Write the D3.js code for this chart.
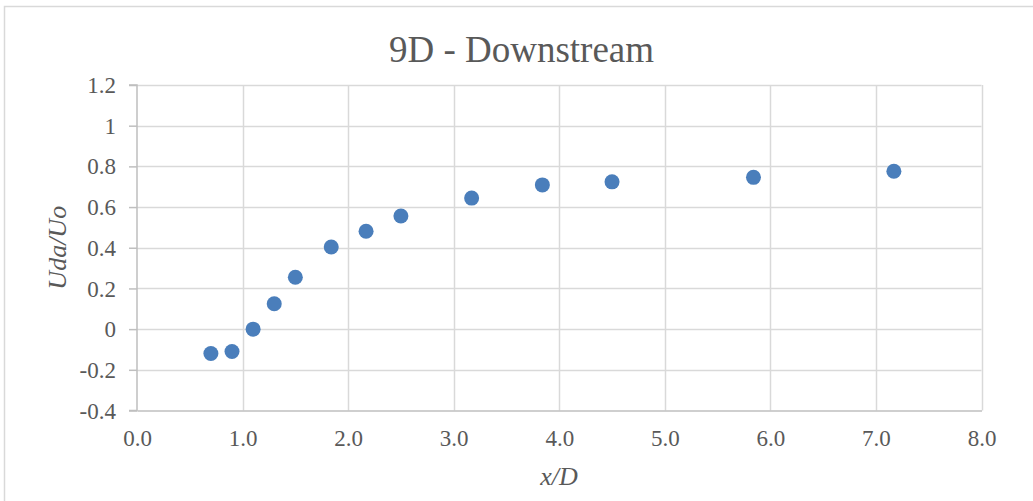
<!DOCTYPE html>
<html>
<head>
<meta charset="utf-8">
<script src="https://cdn.jsdelivr.net/npm/d3@7/dist/d3.min.js"></script>
<style>
  html, body { margin: 0; padding: 0; background: #fff; }
  svg { display: block; }
  svg text { font-family: "Liberation Serif", "DejaVu Serif", "Times New Roman", serif; }
</style>
</head>
<body>
<svg id="chart" width="1033" height="501"></svg>
<script>
// Velocity deficit profile, 9D downstream
const xValues = [0.70, 0.90, 1.10, 1.30, 1.50, 1.84, 2.17, 2.50, 3.17, 3.84, 4.50, 5.84, 7.17];
const yValues = [-0.12, -0.11, 0.00, 0.125, 0.255, 0.404, 0.481, 0.556, 0.644, 0.709, 0.724, 0.746, 0.776];
const xTicks = [0, 1, 2, 3, 4, 5, 6, 7, 8];
const yTicks = [-0.4, -0.2, 0, 0.2, 0.4, 0.6, 0.8, 1, 1.2];
const titleText = "9D - Downstream";
const xLabel = "x/D";
const yLabel = "Uda/Uo";

const svg = d3.select("#chart");
const textColor = "#595959";

// Chart frame
svg.append("rect")
  .attr("x", 4.5).attr("y", 6.5)
  .attr("width", 1040).attr("height", 510)
  .attr("fill", "#fff")
  .attr("stroke", "#d9d9d9").attr("stroke-width", 1.5);

const plot = { left: 137, right: 981.5, top: 85, bottom: 410.5 };

const x = d3.scaleLinear().domain([0, 8]).range([plot.left, plot.right]);
const y = d3.scaleLinear().domain([-0.4, 1.2]).range([plot.bottom, plot.top]);

// Grid lines
const grid = svg.append("g");
grid.selectAll("line.h")
  .data(yTicks.filter(t => t !== -0.4))
  .join("line")
  .attr("x1", plot.left).attr("x2", plot.right)
  .attr("y1", d => Math.round(y(d)) + 0.5).attr("y2", d => Math.round(y(d)) + 0.5)
  .attr("stroke", "#d9d9d9").attr("stroke-width", 1.5);
grid.selectAll("line.v")
  .data(xTicks.filter(t => t !== 0))
  .join("line")
  .attr("y1", plot.top).attr("y2", plot.bottom)
  .attr("x1", d => Math.round(x(d)) + 0.5).attr("x2", d => Math.round(x(d)) + 0.5)
  .attr("stroke", "#d9d9d9").attr("stroke-width", 1.5);

// Axes
const yAxis = d3.axisLeft(y).tickValues(yTicks).tickSize(8).tickPadding(13)
  .tickFormat(d => d === 0 ? "0" : (Number.isInteger(d) ? String(d) : d3.format(".1f")(d)).replace("−", "-"));
const xAxis = d3.axisBottom(x).tickValues(xTicks).tickSize(0).tickPadding(19)
  .tickFormat(d3.format(".1f"));

const gy = svg.append("g").attr("transform", `translate(${plot.left},0)`).call(yAxis);
const gx = svg.append("g").attr("transform", `translate(0,${plot.bottom})`).call(xAxis);

[gx, gy].forEach(g => {
  g.attr("font-family", null).attr("font-size", null);
  g.select(".domain").attr("stroke", "#bfbfbf").attr("stroke-width", 1.5);
  g.selectAll(".tick line").attr("stroke", "#bfbfbf").attr("stroke-width", 1.5);
  g.selectAll(".tick text")
    .attr("fill", textColor)
    .style("font-size", "23px");
});
gy.select(".domain").attr("d", `M-8,${plot.top}H0V${plot.bottom}H-8`);
gy.selectAll(".tick text").attr("dy", "0.33em");

// Data points
svg.append("g").selectAll("circle")
  .data(xValues.map((v, i) => [v, yValues[i]]))
  .join("circle")
  .attr("cx", d => x(d[0]))
  .attr("cy", d => y(d[1]))
  .attr("r", 7.5)
  .attr("fill", "#4a7ebb");

// Title and axis titles
svg.append("text")
  .attr("x", 521.5).attr("y", 62)
  .attr("text-anchor", "middle")
  .attr("fill", textColor)
  .style("font-size", "37px")
  .text(titleText);

svg.append("text")
  .attr("x", 559).attr("y", 485)
  .attr("text-anchor", "middle")
  .attr("fill", textColor)
  .style("font-size", "26px")
  .style("font-style", "italic")
  .text(xLabel);

svg.append("text")
  .attr("transform", `translate(66,${(plot.top + plot.bottom) / 2}) rotate(-90)`)
  .attr("text-anchor", "middle")
  .attr("fill", textColor)
  .style("font-size", "26px")
  .style("font-style", "italic")
  .text(yLabel);
</script>
</body>
</html>
